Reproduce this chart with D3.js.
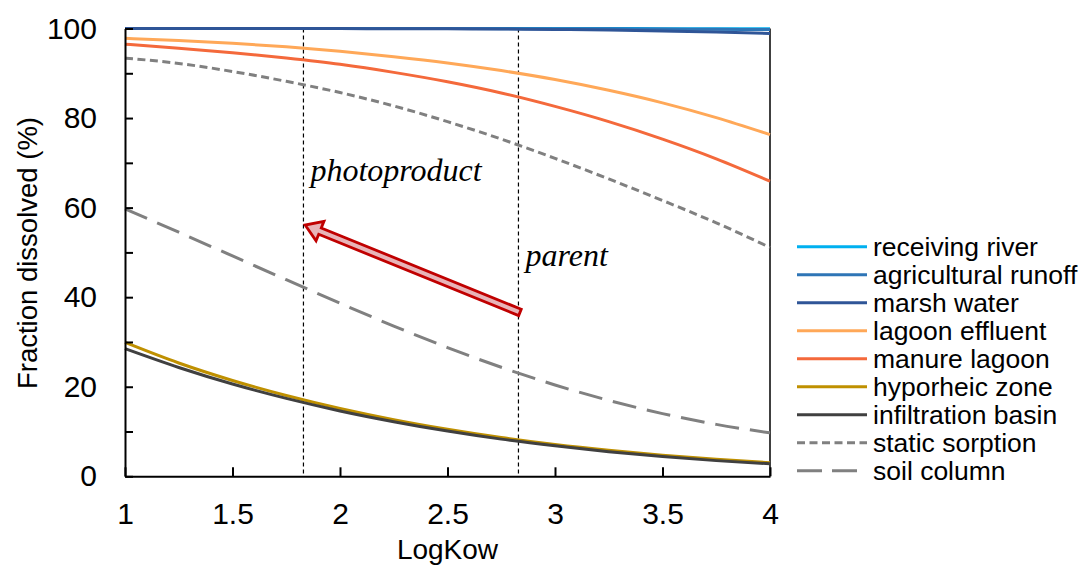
<!DOCTYPE html>
<html>
<head>
<meta charset="utf-8">
<script src="https://cdn.jsdelivr.net/npm/d3@7"></script>
<style>
  html, body { margin: 0; padding: 0; background: #fff; }
  svg { display: block; }
</style>
</head>
<body>
<svg id="chart" width="1084" height="566"></svg>
<script>
// ---- data ----
const logKow = [1, 1.25, 1.5, 1.75, 2, 2.25, 2.5, 2.75, 3, 3.25, 3.5, 3.75, 4];
const receivingRiver    = [100, 100, 100, 100, 100, 100, 100, 99.99, 99.99, 99.98, 99.97, 99.96, 99.95];
const agriculturalRunoff= [100, 100, 100, 100, 99.99, 99.99, 99.98, 99.97, 99.95, 99.92, 99.88, 99.82, 99.75];
const marshWater        = [100, 100, 99.99, 99.99, 99.98, 99.96, 99.93, 99.88, 99.8, 99.66, 99.45, 99.2, 98.9];
const lagoonEffluent    = [97.8, 97.3, 96.7, 95.9, 94.9, 93.7, 92.3, 90.6, 88.6, 86.2, 83.4, 80.1, 76.3];
const manureLagoon      = [96.5, 95.6, 94.6, 93.4, 92.0, 90.2, 88.1, 85.6, 82.6, 79.2, 75.3, 70.9, 65.9];
const hyporheicZone     = [29.9, 25.3, 21.4, 18.05, 15.15, 12.65, 10.5, 8.65, 7.1, 5.8, 4.7, 3.8, 3.05];
const infiltrationBasin = [28.5, 24.3, 20.6, 17.4, 14.6, 12.2, 10.1, 8.3, 6.8, 5.5, 4.4, 3.5, 2.8];
const staticSorption    = [93.4, 92.2, 90.4, 88.2, 85.7, 82.7, 79.2, 75.3, 71.0, 66.4, 61.6, 56.6, 51.1];
const soilColumn        = [59.7, 54.5, 49.2, 43.9, 38.65, 33.55, 28.75, 24.35, 20.4, 16.95, 14.0, 11.6, 9.7];

const seriesNames  = ["receiving river", "agricultural runoff", "marsh water", "lagoon effluent",
                      "manure lagoon", "hyporheic zone", "infiltration basin", "static sorption", "soil column"];
const seriesValues = [receivingRiver, agriculturalRunoff, marshWater, lagoonEffluent,
                      manureLagoon, hyporheicZone, infiltrationBasin, staticSorption, soilColumn];
const seriesColors = ["#00b0f0", "#2e75b6", "#2f5597", "#ffa858", "#f4693b", "#bf9000", "#404040", "#808080", "#808080"];
const seriesDash   = [null, null, null, null, null, null, null, "8,4.5", "24,11"];

const xTicks = [1, 1.5, 2, 2.5, 3, 3.5, 4];
const xTickLabels = ["1", "1.5", "2", "2.5", "3", "3.5", "4"];
const yTicks = [0, 20, 40, 60, 80, 100];
const yMinorTicks = [10, 30, 50, 70, 90];

const markerLines = [1.83, 2.83];
const annotations = [
  { text: "photoproduct", x: 1.83, y: 66 },
  { text: "parent", x: 2.83, y: 47 }
];
const arrowFrom = { x: 2.837, y: 36.6 };
const arrowTo   = { x: 1.838, y: 56.1 };

// ---- layout ----
const svg = d3.select("#chart");
const pLeft = 125, pRight = 770, pTop = 28.5, pBottom = 476.3;
const x = d3.scaleLinear().domain([1, 4]).range([pLeft, pRight]);
const y = d3.scaleLinear().domain([0, 100]).range([pBottom, pTop]);
const font = "'Liberation Sans', Arial, sans-serif";

// right spine
svg.append("line").attr("x1", pRight).attr("x2", pRight).attr("y1", pTop).attr("y2", pBottom)
  .attr("stroke", "#000").attr("stroke-width", 1.5);
svg.append("line").attr("x1", pLeft).attr("x2", pRight).attr("y1", pTop).attr("y2", pTop)
  .attr("stroke", "#000").attr("stroke-width", 1);

// marker vertical lines
svg.selectAll(".vline").data(markerLines).enter().append("line")
  .attr("x1", d => x(d)).attr("x2", d => x(d)).attr("y1", pTop).attr("y2", pBottom)
  .attr("stroke", "#000").attr("stroke-width", 1.2).attr("stroke-dasharray", "4,3");

// series
const line = d3.line().x((d, i) => x(logKow[i])).y(d => y(d)).curve(d3.curveMonotoneX);
seriesValues.forEach((vals, k) => {
  svg.append("path").attr("d", line(vals)).attr("fill", "none")
    .attr("stroke", seriesColors[k]).attr("stroke-width", 3)
    .attr("stroke-dasharray", seriesDash[k]);
});

// axes
const yAxis = d3.axisLeft(y).tickValues(yTicks).tickSize(-8).tickPadding(28).tickSizeOuter(0);
const gy = svg.append("g").attr("transform", `translate(${pLeft},0)`).call(yAxis);
const yMinor = d3.axisLeft(y).tickValues(yMinorTicks).tickSize(-8).tickFormat("").tickSizeOuter(0);
const gy2 = svg.append("g").attr("transform", `translate(${pLeft},0)`).call(yMinor);
gy2.select(".domain").remove();
const xAxis = d3.axisBottom(x).tickValues(xTicks).tickFormat((d, i) => xTickLabels[i]).tickSize(-9).tickPadding(26).tickSizeOuter(0);
const gx = svg.append("g").attr("transform", `translate(0,${pBottom})`).call(xAxis);
[gy, gy2, gx].forEach(g => {
  g.selectAll("path, line").attr("stroke", "#000").attr("stroke-width", 2);
  g.selectAll("text").attr("font-family", font).attr("font-size", 30).attr("fill", "#000");
});
gx.selectAll("text").attr("dy", "0.71em");

// axis titles
svg.append("text").attr("transform", `translate(37,253) rotate(-90)`)
  .attr("text-anchor", "middle").attr("font-family", font).attr("font-size", 27.5)
  .text("Fraction dissolved (%)");
svg.append("text").attr("x", (pLeft + pRight) / 2).attr("y", 559)
  .attr("text-anchor", "middle").attr("font-family", font).attr("font-size", 28)
  .text("LogKow");

// annotations
svg.selectAll(".ann").data(annotations).enter().append("text")
  .attr("x", d => x(d.x) + 7).attr("y", d => y(d.y))
  .attr("font-family", "'Liberation Serif', 'Times New Roman', serif")
  .attr("font-style", "italic").attr("font-size", 32).attr("fill", "#000")
  .text(d => d.text);

// block arrow
(function () {
  const x0 = x(arrowFrom.x), y0 = y(arrowFrom.y), x1 = x(arrowTo.x), y1 = y(arrowTo.y);
  const dx = x1 - x0, dy = y1 - y0, L = Math.hypot(dx, dy);
  const ux = dx / L, uy = dy / L, nx = -uy, ny = ux;
  const sw = 3.4, hw = 10.5, hl = 16;
  const bx = x1 - ux * hl, by = y1 - uy * hl;
  const pts = [
    [x0 + nx * sw, y0 + ny * sw],
    [bx + nx * sw, by + ny * sw],
    [bx + nx * hw, by + ny * hw],
    [x1, y1],
    [bx - nx * hw, by - ny * hw],
    [bx - nx * sw, by - ny * sw],
    [x0 - nx * sw, y0 - ny * sw]
  ];
  svg.append("polygon").attr("points", pts.map(p => p.join(",")).join(" "))
    .attr("fill", "#e8b4b8").attr("stroke", "#c00000").attr("stroke-width", 2.8)
    .attr("stroke-linejoin", "miter");
})();

// legend
const lg = svg.append("g");
seriesNames.forEach((name, k) => {
  const yy = 246.7 + k * 28;
  lg.append("line").attr("x1", 797).attr("x2", 867).attr("y1", yy).attr("y2", yy)
    .attr("stroke", seriesColors[k]).attr("stroke-width", 3)
    .attr("stroke-dasharray", k === 8 ? "25,10" : seriesDash[k]);
  lg.append("text").attr("x", 873).attr("y", yy).attr("dy", "0.35em")
    .attr("font-family", font).attr("font-size", 26.5).attr("fill", "#000").text(name);
});
</script>
</body>
</html>
